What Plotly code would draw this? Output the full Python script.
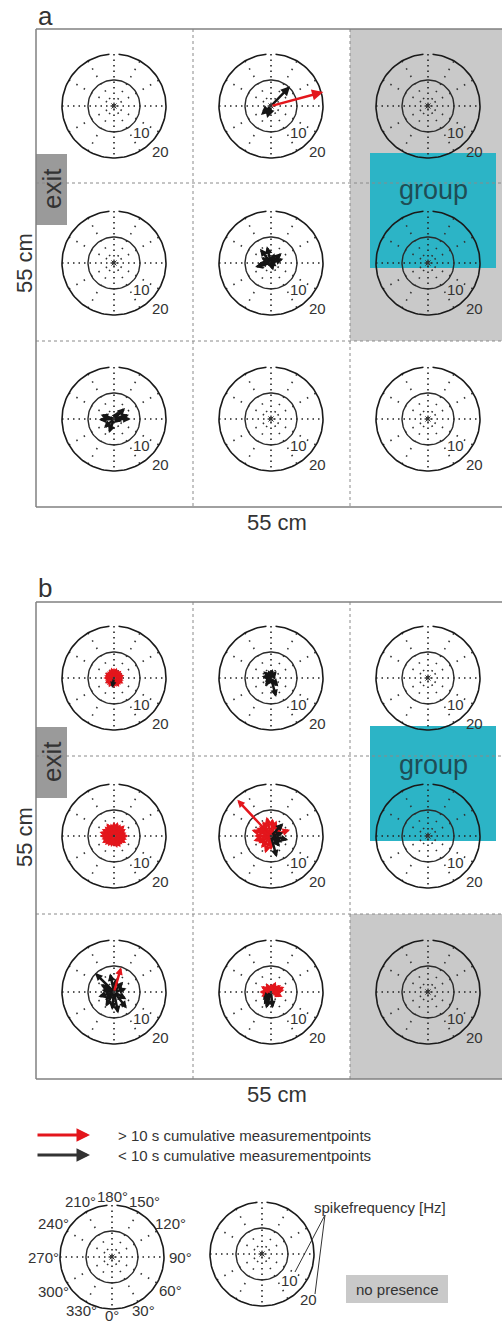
import numpy as np
import plotly.graph_objects as go

# ---------------- data (angle in degrees, spike frequency in Hz) ----------------
# angle convention: 0 deg = down, 90 deg = right, 180 deg = up, 270 deg = left
PANELS = ["a", "b"]
ROW_CENTERS_A = [106, 263, 419]
ROW_CENTERS_B = [678, 836, 992]
COL_CENTERS = [114, 271, 428]
RING_HZ = [10, 20]
SPOKE_DEG = [0, 30, 60, 90, 120, 150]
DEG_LABELS = ["0°", "30°", "60°", "90°", "120°", "150°", "180°", "210°", "240°", "270°", "300°", "330°"]

# panel a
A12_RED_THETA = [105]
A12_RED_HZ = [20.8]
A12_BLACK_THETA = [136, 312, 342]
A12_BLACK_HZ = [10.6, 5.2, 4.9]
A22_BLACK_THETA = [133, 194, 284, 109, 218, 273, 17, 240, 160, 60]
A22_BLACK_HZ = [5.6, 6.6, 6.3, 5.0, 6.9, 4.9, 3.0, 4.4, 4.0, 2.5]
A31_BLACK_THETA = [135, 90, 273, 252, 340, 312, 106, 147, 75]
A31_BLACK_HZ = [6.0, 6.4, 5.8, 5.4, 5.7, 5.2, 6.0, 3.5, 3.3]

# panel b
B11_RED_THETA = [0, 15, 30, 45, 60, 75, 90, 105, 120, 135, 150, 165, 180, 195, 210, 225, 240, 255, 270, 285, 300, 315, 330]
B11_RED_HZ = [3.8, 3.6, 4.0, 3.7, 4.2, 3.9, 3.8, 4.1, 3.7, 4.0, 3.6, 4.1, 3.9, 4.2, 3.8, 3.7, 4.0, 3.9, 4.1, 3.6, 4.0, 3.8, 4.1]
B11_BLACK_THETA = [349]
B11_BLACK_HZ = [3.9]
B12_BLACK_THETA = [15, 260, 187, 229, 140, 324, 41, 200, 170, 300]
B12_BLACK_HZ = [7.6, 3.6, 3.0, 3.9, 3.4, 3.9, 4.3, 3.2, 3.5, 2.8]
B21_RED_THETA = [0, 15, 30, 45, 60, 75, 90, 105, 120, 135, 150, 165, 180, 195, 210, 225, 240, 255, 270, 285, 300, 315, 330, 345]
B21_RED_HZ = [4.2, 4.8, 5.0, 4.6, 5.4, 5.2, 5.6, 5.0, 5.3, 5.8, 5.2, 5.6, 5.5, 5.0, 5.7, 5.1, 5.4, 5.8, 5.5, 5.0, 5.3, 4.9, 4.6, 4.4]
B22_RED_THETA = [223, 193, 253, 341, 108, 300, 270, 230, 160, 130, 210, 320, 285, 0, 240, 175]
B22_RED_HZ = [19.0, 7.6, 7.8, 7.0, 7.7, 5.6, 6.5, 6.0, 6.3, 5.8, 6.6, 6.0, 7.0, 5.5, 6.4, 6.8]
B22_BLACK_THETA = [136, 77, 15, 105, 40, 60]
B22_BLACK_HZ = [6.8, 6.8, 8.5, 4.9, 5.4, 5.0]
B31_RED_THETA = [164]
B31_RED_HZ = [9.9]
B31_BLACK_THETA = [225, 11, 38, 106, 192, 261, 312, 138, 354, 287, 60, 240, 170, 330]
B31_BLACK_HZ = [10.3, 8.4, 8.0, 5.0, 7.3, 4.8, 4.6, 5.3, 7.0, 6.3, 5.5, 6.0, 5.5, 6.5]
B32_RED_THETA = [99, 270, 154, 210, 68, 125, 295, 180, 240, 110, 85]
B32_RED_HZ = [5.2, 4.5, 4.4, 3.9, 4.8, 4.7, 4.2, 3.3, 4.5, 5.5, 4.0]
B32_BLACK_THETA = [343, 6, 314, 330]
B32_BLACK_HZ = [6.6, 6.3, 4.4, 5.5]

LEGEND_TEXT = ["> 10 s cumulative measurementpoints", "< 10 s cumulative measurementpoints"]

# ---------------- styling ----------------
FONT = "Liberation Sans, Arial, sans-serif"
RED = "#e3161c"
BLACK = "#151515"
TEAL = "#2cb4c6"
GRAYCELL = "#c9c9c9"
EXITGRAY = "#9a9a9a"
TXT = "#333333"
PX_PER_HZ = 2.6

fig = go.Figure()
shapes = []
annots = []

def line_shape(x0, y0, x1, y1, color="#808080", width=1.5, dash="solid"):
    shapes.append(dict(type="line", x0=x0, y0=y0, x1=x1, y1=y1, xref="x", yref="y",
                       line=dict(color=color, width=width, dash=dash)))

def rect(x0, y0, x1, y1, color, layer="below"):
    shapes.append(dict(type="rect", x0=x0, y0=y0, x1=x1, y1=y1, xref="x", yref="y",
                       fillcolor=color, line=dict(width=0), layer=layer))

def text(x, y, s, size, color=TXT, angle=0, xanchor="center", yanchor="middle"):
    annots.append(dict(x=x, y=y, xref="x", yref="y", text=s, showarrow=False,
                       font=dict(family=FONT, size=size, color=color), textangle=angle,
                       xanchor=xanchor, yanchor=yanchor))

# backgrounds
rect(350, 29, 502, 341, GRAYCELL)
rect(350, 914, 502, 1079, GRAYCELL)
rect(370, 153, 496, 268, TEAL)
rect(370, 726, 496, 841, TEAL)
rect(36, 154, 67, 225, EXITGRAY, layer="above")
rect(36, 727, 67, 798, EXITGRAY, layer="above")
rect(346, 1275, 448, 1303, GRAYCELL)

# panel frames and dotted cell dividers
for top, bottom, rows in [(29, 507, [183, 341]), (602, 1079, [756, 914])]:
    for xv in [193, 350]:
        line_shape(xv, top, xv, bottom, color="#8a8a8a", width=1, dash="dot")
    for yv in rows:
        line_shape(36, yv, 502, yv, color="#8a8a8a", width=1, dash="dot")
    line_shape(36, top, 36, bottom)
    line_shape(36, top, 502, top)
    line_shape(36, bottom, 502, bottom)

# polar compasses
centers = [(cx, cy) for cy in ROW_CENTERS_A + ROW_CENTERS_B for cx in COL_CENTERS]
centers += [(112, 1257), (262, 1254)]

outer_x, outer_y, inner_x, inner_y = [], [], [], []
hsp_x, hsp_y, dsp_x, dsp_y = [], [], [], []
R_out = RING_HZ[1] * PX_PER_HZ
R_in = RING_HZ[0] * PX_PER_HZ
phi_o = np.radians(np.linspace(185, 535, 140))
phi_i = np.radians(np.linspace(0, 360, 100))
for cx, cy in centers:
    outer_x += list(cx + R_out * np.sin(phi_o)) + [None]
    outer_y += list(cy + R_out * np.cos(phi_o)) + [None]
    inner_x += list(cx + R_in * np.sin(phi_i)) + [None]
    inner_y += list(cy + R_in * np.cos(phi_i)) + [None]
    for d in SPOKE_DEG:
        t = np.radians(d)
        xs = [cx - R_out * np.sin(t), cx + R_out * np.sin(t), None]
        ys = [cy - R_out * np.cos(t), cy + R_out * np.cos(t), None]
        if d in (0, 90):
            hsp_x += xs; hsp_y += ys
        else:
            dsp_x += xs; dsp_y += ys

fig.add_trace(go.Scatter(x=hsp_x, y=hsp_y, mode="lines", hoverinfo="skip",
                         line=dict(color="#222", width=1.6, dash="1.5px,4px")))
fig.add_trace(go.Scatter(x=dsp_x, y=dsp_y, mode="lines", hoverinfo="skip",
                         line=dict(color="#333", width=1.6, dash="1.5px,7px")))
fig.add_trace(go.Scatter(x=inner_x, y=inner_y, mode="lines", hoverinfo="skip",
                         line=dict(color="#2a2a2a", width=1.4)))
fig.add_trace(go.Scatter(x=outer_x, y=outer_y, mode="lines", hoverinfo="skip",
                         line=dict(color="#1a1a1a", width=1.6)))
fig.add_trace(go.Scatter(x=[c[0] for c in centers], y=[c[1] for c in centers], mode="markers",
                         hoverinfo="skip", marker=dict(symbol="asterisk-open", size=6, color="#333",
                                                       line=dict(color="#333", width=1))))

# ring labels
for i, (cx, cy) in enumerate(centers):
    if i == len(centers) - 2:
        continue
    text(cx + 27, cy + 26, str(RING_HZ[0]), 15)
    text(cx + 46, cy + 45, str(RING_HZ[1]), 15)

# degree labels on legend compass
lcx, lcy = centers[-2]
LABEL_R = [58, 62, 67, 68, 67, 64, 61, 64, 67, 69, 68, 62]
for k, lab in enumerate(DEG_LABELS):
    t = np.radians(k * 30)
    rr = LABEL_R[k]
    text(lcx + rr * np.sin(t), lcy + rr * np.cos(t), lab, 15)

# arrows
def arrows(cx, cy, thetas, hz, color, size=0.75):
    for th, f in zip(thetas, hz):
        t = np.radians(th)
        r = f * PX_PER_HZ
        annots.append(dict(x=cx + r * np.sin(t), y=cy + r * np.cos(t), xref="x", yref="y",
                           ax=cx, ay=cy, axref="x", ayref="y", text="", showarrow=True,
                           arrowhead=2, arrowsize=size, arrowwidth=2.5, arrowcolor=color,
                           standoff=0, startstandoff=0))

xa, xb, xc = COL_CENTERS
arrows(xb, ROW_CENTERS_A[0], A12_BLACK_THETA, A12_BLACK_HZ, BLACK)
arrows(xb, ROW_CENTERS_A[0], A12_RED_THETA, A12_RED_HZ, RED, 0.9)
arrows(xb, ROW_CENTERS_A[1], A22_BLACK_THETA, A22_BLACK_HZ, BLACK, 0.6)
arrows(xa, ROW_CENTERS_A[2], A31_BLACK_THETA, A31_BLACK_HZ, BLACK, 0.6)

arrows(xa, ROW_CENTERS_B[0], B11_RED_THETA, B11_RED_HZ, RED, 0.6)
arrows(xa, ROW_CENTERS_B[0], B11_BLACK_THETA, B11_BLACK_HZ, BLACK, 0.5)
arrows(xb, ROW_CENTERS_B[0], B12_BLACK_THETA, B12_BLACK_HZ, BLACK, 0.6)
arrows(xa, ROW_CENTERS_B[1], B21_RED_THETA, B21_RED_HZ, RED, 0.6)
arrows(xb, ROW_CENTERS_B[1], B22_RED_THETA, B22_RED_HZ, RED, 0.6)
arrows(xb, ROW_CENTERS_B[1], B22_BLACK_THETA, B22_BLACK_HZ, BLACK, 0.6)
arrows(xa, ROW_CENTERS_B[2], B31_BLACK_THETA, B31_BLACK_HZ, BLACK, 0.6)
arrows(xa, ROW_CENTERS_B[2], B31_RED_THETA, B31_RED_HZ, RED, 0.6)
arrows(xb, ROW_CENTERS_B[2], B32_RED_THETA, B32_RED_HZ, RED, 0.6)
arrows(xb, ROW_CENTERS_B[2], B32_BLACK_THETA, B32_BLACK_HZ, BLACK, 0.6)

# legend arrows
for yy, col, lab in [(1135, RED, LEGEND_TEXT[0]), (1155, "#333", LEGEND_TEXT[1])]:
    annots.append(dict(x=90, y=yy, ax=36, ay=yy, xref="x", yref="y", axref="x", ayref="y",
                       text="", showarrow=True, arrowhead=2, arrowsize=0.9, arrowwidth=3,
                       arrowcolor=col, standoff=0))
    text(116, yy, lab, 15, xanchor="left")

# text labels
text(45, 16, PANELS[0], 26)
text(45, 588, PANELS[1], 26)
text(277, 522, "55 cm", 22)
text(277, 1094, "55 cm", 22)
text(24, 263, "55 cm", 22, angle=-90)
text(24, 837, "55 cm", 22, angle=-90)
text(52, 189, "exit", 26, angle=-90)
text(52, 762, "exit", 26, angle=-90)
text(433, 190, "group", 27, color="#1f4d55")
text(433, 765, "group", 27, color="#1f4d55")

# spikefrequency legend
text(312, 1207, "spikefrequency [Hz]", 15, xanchor="left")
line_shape(325, 1215, 295, 1272, color="#333", width=1)
line_shape(325, 1215, 315, 1294, color="#333", width=1)
text(397, 1289, "no presence", 15)

fig.update_layout(
    width=502, height=1325, margin=dict(l=0, r=0, t=0, b=0),
    paper_bgcolor="white", plot_bgcolor="white", showlegend=False,
    xaxis=dict(range=[0, 502], visible=False, fixedrange=True),
    yaxis=dict(range=[1325, 0], visible=False, fixedrange=True),
    shapes=shapes, annotations=annots,
)
fig.write_html("out.html")
